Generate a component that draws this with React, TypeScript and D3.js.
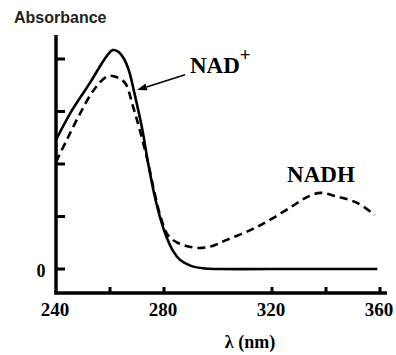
import React from "react";
import * as d3 from "d3";

const nadPlusWl = [240, 246, 252.5, 257, 259, 261, 263, 265, 267, 269, 272, 274, 276.5, 279, 281, 283.5, 286, 290, 295, 300, 330, 359];
const nadPlusAbs = [2.46, 3.03, 3.54, 3.92, 4.07, 4.17, 4.14, 4.02, 3.78, 3.36, 2.65, 2.05, 1.4, 0.9, 0.6, 0.33, 0.17, 0.06, 0.01, 0, 0, 0];

const nadhWl = [240, 244, 249, 254, 259, 262, 265.5, 268.5, 271, 274, 276.5, 279, 281.5, 285, 289, 293, 298, 303, 312, 319, 327, 333, 338, 344, 351.5, 358];
const nadhAbs = [2.04, 2.46, 2.97, 3.41, 3.67, 3.66, 3.55, 3.1, 2.65, 2.05, 1.45, 0.95, 0.64, 0.5, 0.43, 0.4, 0.44, 0.55, 0.74, 0.93, 1.18, 1.37, 1.45, 1.38, 1.26, 1.03];

const xTicks = [260, 280, 320, 340, 360];
const xTickLabels = ["240", "280", "320", "360"];
const yTicks = [0, 1, 2, 3, 4];
const yTickLabels = ["0"];

const W = 396;
const H = 355;

export default function App() {
  const x = d3.scaleLinear().domain([240, 360]).range([56, 380]);
  const y = d3.scaleLinear().domain([0, 4]).range([269, 59]);

  const mk = (wl: number[], ab: number[]) =>
    d3
      .line<number>()
      .x((d) => x(wl[d]))
      .y((d) => y(ab[d]))
      .curve(d3.curveCatmullRom.alpha(0.5))(d3.range(wl.length)) as string;

  const solidPath = mk(nadPlusWl, nadPlusAbs);
  const dashPath = mk(nadhWl, nadhAbs);

  const axisX0 = x(240);
  const axisY0 = 293;
  const axisTop = 35;
  const axisRight = 387;

  const arrowFrom: [number, number] = [287.8, 3.7];
  const arrowTo: [number, number] = [270, 3.41];
  const ax1 = x(arrowFrom[0]), ay1 = y(arrowFrom[1]);
  const ax2 = x(arrowTo[0]), ay2 = y(arrowTo[1]);
  const ang = Math.atan2(ay2 - ay1, ax2 - ax1);
  const hl = 10, hw = 3.5;
  const bx = ax2 - hl * Math.cos(ang), by = ay2 - hl * Math.sin(ang);
  const head = `M${ax2},${ay2} L${bx + hw * Math.sin(ang)},${by - hw * Math.cos(ang)} L${bx - hw * Math.sin(ang)},${by + hw * Math.cos(ang)} Z`;

  const serif = "'Liberation Serif', 'Times New Roman', serif";

  return (
    <svg
      width={W}
      height={H}
      style={{ position: "absolute", left: 0, top: 0, background: "#fff" }}
    >
      <text x={14} y={23} fontFamily="'Liberation Sans', Arial, sans-serif" fontWeight="bold" fontSize={16} fill="#222">
        Absorbance
      </text>

      {/* axes */}
      <line x1={axisX0} y1={axisTop} x2={axisX0} y2={axisY0 + 1.5} stroke="#000" strokeWidth={3.5} />
      <line x1={axisX0 - 1.5} y1={axisY0} x2={axisRight} y2={axisY0} stroke="#000" strokeWidth={3.5} />

      {yTicks.map((t) => (
        <line key={"yt" + t} x1={axisX0} x2={axisX0 + 9} y1={y(t)} y2={y(t)} stroke="#000" strokeWidth={3} />
      ))}
      {xTicks.map((t) => (
        <line key={"xt" + t} x1={x(t)} x2={x(t)} y1={axisY0} y2={axisY0 - 6} stroke="#000" strokeWidth={3} />
      ))}

      {xTickLabels.map((t) => (
        <text key={"xl" + t} x={x(+t) - 1} y={316} textAnchor="middle" fontFamily={serif} fontWeight="bold" fontSize={19}>
          {t}
        </text>
      ))}
      {yTickLabels.map((t) => (
        <text key={"yl" + t} x={41} y={y(+t) + 8} textAnchor="middle" fontFamily={serif} fontWeight="bold" fontSize={18}>
          {t}
        </text>
      ))}

      <text x={250} y={348} textAnchor="middle" fontFamily={serif} fontWeight="bold" fontSize={18}>
        λ (nm)
      </text>

      {/* curves */}
      <path d={dashPath} fill="none" stroke="#000" strokeWidth={2.6} strokeDasharray="8,5" />
      <path d={solidPath} fill="none" stroke="#000" strokeWidth={2.6} />

      {/* annotations */}
      <line x1={ax1} y1={ay1} x2={bx} y2={by} stroke="#000" strokeWidth={1.5} />
      <path d={head} fill="#000" />

      <text x={x(289.6)} y={y(3.73)} fontFamily={serif} fontWeight="bold" fontSize={23}>
        NAD
        <tspan fontSize={19} dy={-12}>+</tspan>
      </text>
      <text x={x(325.6)} y={y(1.66)} fontFamily={serif} fontWeight="bold" fontSize={23}>
        NADH
      </text>
    </svg>
  );
}
